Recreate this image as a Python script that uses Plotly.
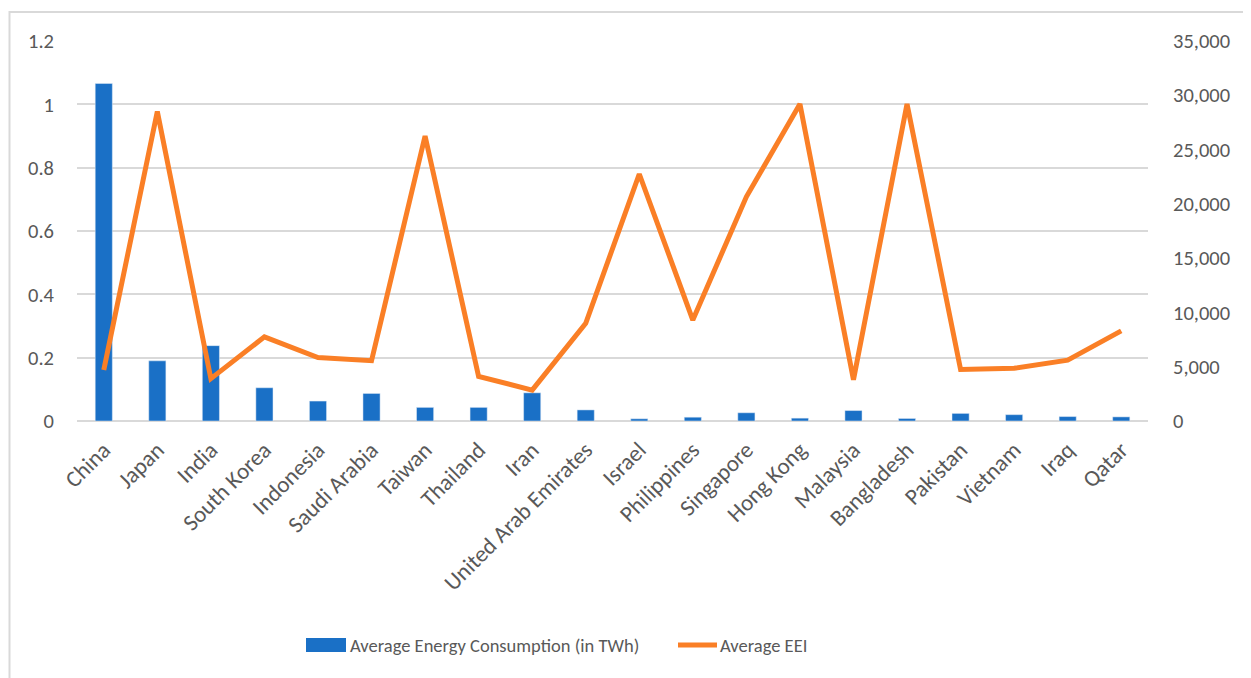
import plotly.graph_objects as go

countries = ["China", "Japan", "India", "South Korea", "Indonesia", "Saudi Arabia",
             "Taiwan", "Thailand", "Iran", "United Arab Emirates", "Israel",
             "Philippines", "Singapore", "Hong Kong", "Malaysia", "Bangladesh",
             "Pakistan", "Vietnam", "Iraq", "Qatar"]
energy_twh = [1.066, 0.19, 0.238, 0.105, 0.063, 0.087, 0.043, 0.043, 0.089, 0.035,
              0.007, 0.012, 0.026, 0.009, 0.033, 0.008, 0.024, 0.020, 0.014, 0.013]
avg_eei = [4700, 28500, 3900, 7750, 5850, 5550, 26250, 4100, 2850, 9000,
           22750, 9300, 20650, 29200, 3800, 29200, 4750, 4850, 5600, 8300]

BLUE = "#1A70C6"
ORANGE = "#FA7F26"
GRID = "#D9D9D9"
TXT = "#595959"
FONT = "Carlito, Lato, sans-serif"

fig = go.Figure()
fig.add_trace(go.Bar(x=countries, y=energy_twh, marker_color=BLUE,
                     name="Average Energy Consumption (in TWh)", yaxis="y"))
fig.add_trace(go.Scatter(x=countries, y=avg_eei, mode="lines",
                         line=dict(color=ORANGE, width=5), name="Average EEI",
                         yaxis="y2"))

OFF = 8  # page body offset
W, H = 1251 - OFF, 678 - OFF
L, T = 77 - OFF, 41 - OFF
R = W - (1148 - OFF)
B = H - (421 - OFF)
pw, ph = W - L - R, H - T - B

def px(x):
    return (x - OFF - L) / pw

def py(y):
    return (H - B - (y - OFF)) / ph

fig.update_layout(
    width=W, height=H,
    margin=dict(l=L, r=R, t=T, b=B, autoexpand=False),
    paper_bgcolor="white", plot_bgcolor="white",
    showlegend=False,
    bargap=0.68,
    font=dict(family=FONT, size=20, color=TXT),
    xaxis=dict(tickangle=-45, showgrid=False, showline=False, ticks="",
               ticklabelstandoff=10,
               tickfont=dict(family=FONT, size=23, color=TXT)),
    yaxis=dict(range=[0, 1.2], dtick=0.2, showgrid=True, gridcolor=GRID,
               gridwidth=1.5, zeroline=True, zerolinecolor=GRID, zerolinewidth=1.5,
               showline=False, ticks="", ticklabelstandoff=22,
               tickfont=dict(family=FONT, size=20.5, color=TXT)),
    yaxis2=dict(range=[0, 35000], dtick=5000, overlaying="y", side="right",
                showgrid=False, zeroline=False, showline=False, ticks="",
                tickformat=",", ticklabelstandoff=24,
                tickfont=dict(family=FONT, size=20.5, color=TXT)),
)

# outer border (cropped chart frame)
fig.add_shape(type="rect", xref="paper", yref="paper",
              x0=px(9.5), x1=px(1270), y0=py(12), y1=py(700),
              line=dict(color=GRID, width=2), fillcolor="rgba(0,0,0,0)", layer="below")

# manual legend
fig.add_shape(type="rect", xref="paper", yref="paper",
              x0=px(306), x1=px(346), y0=py(652), y1=py(638),
              line=dict(width=0), fillcolor=BLUE)
fig.add_annotation(xref="paper", yref="paper", x=px(348), y=py(645),
                   xanchor="left", yanchor="middle", showarrow=False,
                   text="Average Energy Consumption (in TWh)",
                   font=dict(family=FONT, size=18.5, color=TXT))
fig.add_shape(type="line", xref="paper", yref="paper",
              x0=px(678), x1=px(717), y0=py(645), y1=py(645),
              line=dict(color=ORANGE, width=5))
fig.add_annotation(xref="paper", yref="paper", x=px(718), y=py(645),
                   xanchor="left", yanchor="middle", showarrow=False,
                   text="Average EEI",
                   font=dict(family=FONT, size=18.5, color=TXT))

fig.write_html("out.html")
